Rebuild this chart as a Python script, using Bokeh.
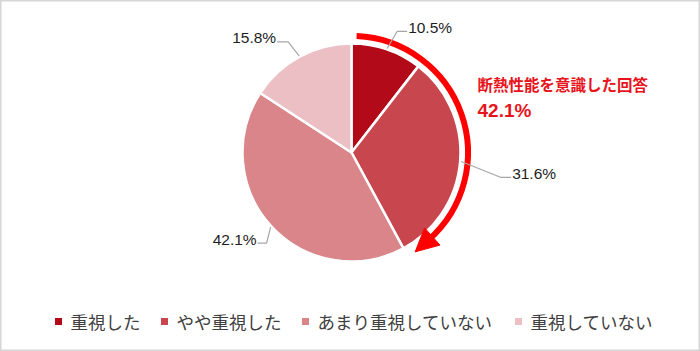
import numpy as np
from bokeh.plotting import figure
from bokeh.models import Range1d, Arrow, NormalHead
from bokeh.core.properties import value
from bokeh.embed import file_html
from bokeh.resources import INLINE

# ---- data ----
categories = ["重視した", "やや重視した", "あまり重視していない", "重視していない"]
values = [10.5, 31.6, 42.1, 15.8]
value_labels = ["10.5%", "31.6%", "42.1%", "15.8%"]
highlight_title = "断熱性能を意識した回答"
highlight_count = 2  # first two categories

# ---- styles / layout ----
colors = ["#B20A18", "#C8474F", "#DA8589", "#EBBFC4"]
W, H = 700, 351
cx, cy, r = 351, 199, 109
JP = value("Noto Sans CJK JP")
NUM = value("Liberation Sans")

p = figure(width=W, height=H, x_range=Range1d(0, W), y_range=Range1d(0, H),
           output_backend="svg", toolbar_location=None, min_border=0)
p.axis.visible = False
p.grid.visible = False
p.outline_line_color = "#D6D6D6"
p.outline_line_width = 2
p.background_fill_color = "white"
p.border_fill_color = "white"

fr = np.array(values) / sum(values)
cum = np.concatenate([[0.0], np.cumsum(fr)])
start = np.pi / 2 - cum[:-1] * 2 * np.pi
end = np.pi / 2 - cum[1:] * 2 * np.pi
p.wedge(x=cx, y=cy, radius=r, start_angle=start, end_angle=end, direction="clock",
        fill_color=colors, line_color="white", line_width=2.5)

# ---- highlight arc with arrow ----
red = "#FF0000"
ar = 116.5
hl_end = np.pi / 2 - cum[highlight_count] * 2 * np.pi
tip_a = hl_end + np.deg2rad(4.2)
head = 20
base_a = tip_a + head / ar
p.arc(x=cx, y=cy, radius=ar, start_angle=np.deg2rad(87.5), end_angle=base_a - np.deg2rad(1.0),
      direction="clock", line_color="white", line_width=9)
p.arc(x=cx, y=cy, radius=ar, start_angle=np.deg2rad(87.5), end_angle=base_a - np.deg2rad(1.0),
      direction="clock", line_color=red, line_width=6)
tip_r = ar + 1.5
p.add_layout(Arrow(x_start=cx + ar * np.cos(base_a), y_start=cy + ar * np.sin(base_a),
                   x_end=cx + tip_r * np.cos(tip_a), y_end=cy + tip_r * np.sin(tip_a),
                   line_alpha=0, line_width=0,
                   end=NormalHead(size=head + 3, fill_color=red, line_color=red, line_width=1)))

# ---- value labels with leader lines ----
mid = np.pi / 2 - (cum[:-1] + fr / 2) * 2 * np.pi
elbow_off = [(10, 17), (40, -16), (-4, -16), (-11, 14)]
horiz = [10, 10, -9, -11]
for i, lab in enumerate(value_labels):
    ax, ay = cx + (r + 1) * np.cos(mid[i]), cy + (r + 1) * np.sin(mid[i])
    ex, ey = ax + elbow_off[i][0], ay + elbow_off[i][1]
    fx = ex + horiz[i]
    p.line([ax, ex, fx], [ay, ey, ey], line_color="#A6A6A6", line_width=1.2)
    align = "left" if horiz[i] > 0 else "right"
    tx = fx + (1 if horiz[i] > 0 else -1)
    p.text(x=[tx], y=[ey + 4], text=[lab], text_font=NUM, text_font_size="15.5px",
           text_color="#1E1E1E", text_align=align, text_baseline="middle")

# ---- highlight annotation ----
hl_sum = sum(values[:highlight_count])
p.text(x=[477], y=[268], text=[highlight_title], text_font=JP, text_font_size="15.5px",
       text_font_style="bold", text_color="#E8141C", text_align="left", text_baseline="middle")
p.text(x=[477], y=[241], text=[f"{hl_sum:.1f}%"], text_font=NUM, text_font_size="19px",
       text_font_style="bold", text_color="#E8141C", text_align="left", text_baseline="middle")

# ---- legend ----
leg_sq_x = [58, 164, 305, 518]
leg_y = 30
p.scatter(x=leg_sq_x, y=[leg_y] * 4, marker="square", size=7, fill_color=colors, line_color=None)
p.text(x=[x + 12 for x in leg_sq_x], y=[leg_y] * 4, text=categories, text_font=JP,
       text_font_size="17.5px", text_color="#404040", text_align="left", text_baseline="middle")

open("out.html", "w").write(file_html(p, INLINE))
